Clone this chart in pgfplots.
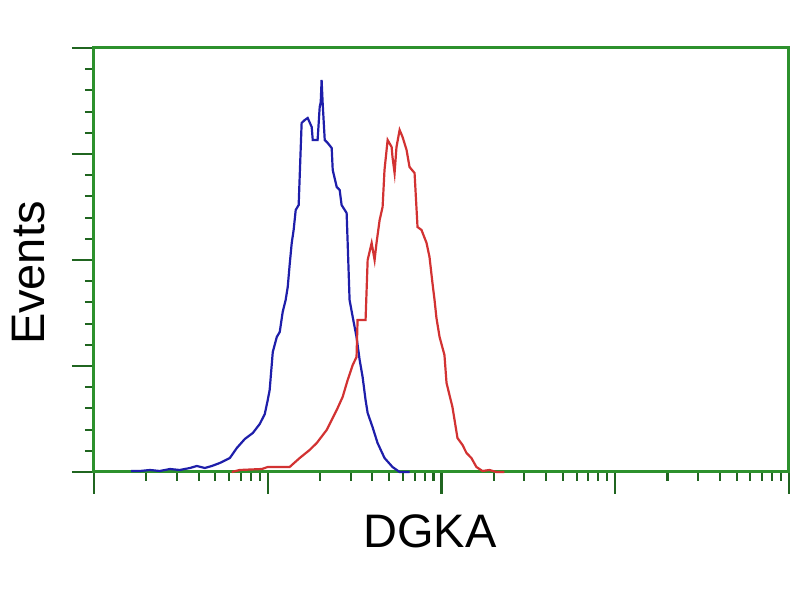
\documentclass[border=0pt]{standalone}
\usepackage{fontspec}
\setmainfont{Liberation Sans}
\usepackage{pgfplots}
\pgfplotsset{compat=1.18}
\definecolor{axgreen}{RGB}{45,145,45}
\definecolor{cblue}{RGB}{30,30,170}
\definecolor{cred}{RGB}{210,50,50}
\begin{document}
\begin{tikzpicture}
\path[use as bounding box] (0,0) rectangle (400pt,300pt);
\begin{axis}[
  at={(47pt,64pt)}, anchor=south west,
  scale only axis, width=347.5pt, height=212pt,
  xmin=0, xmax=4, ymin=0, ymax=424,
  xtick={0,1,2,3,4},
  minor xtick={0.301,0.477,0.602,0.699,0.778,0.845,0.903,0.954,
               1.301,1.477,1.602,1.699,1.778,1.845,1.903,1.954,
               2.301,2.477,2.602,2.699,2.778,2.845,2.903,2.954,
               3.301,3.477,3.602,3.699,3.778,3.845,3.903,3.954},
  ytick={0,106,212,318,424},
  minor ytick={21.2,42.4,63.6,84.8,127.2,148.4,169.6,190.8,233.2,254.4,275.6,296.8,339.2,360.4,381.6,402.8},
  xticklabels={}, yticklabels={},
  tick align=outside, xtick pos=bottom, ytick pos=left,
  major tick length=11pt, minor tick length=4.5pt,
  every tick/.style={color=axgreen!70!black, line width=1.05pt},
  axis line style={color=axgreen, line width=1.5pt},
  xlabel={DGKA}, ylabel={Events},
  xlabel style={at={(axis description cs:0.4835,-0.140)}, anchor=center, font=\fontsize{23.5}{28}\selectfont},
  ylabel style={at={(axis description cs:-0.0935,0.469)}, anchor=center, font=\fontsize{23.5}{28}\selectfont},
  clip=false,
]
\addplot[color=cblue, line width=1.1pt] coordinates {
(0.213,1) (0.264,1) (0.322,2) (0.379,1) (0.437,3) (0.494,2) (0.552,4) (0.592,6)
(0.638,4) (0.678,6) (0.724,9) (0.782,14) (0.822,24) (0.868,33) (0.914,39) (0.954,48)
(0.983,58) (1.000,72) (1.011,82) (1.029,120) (1.052,135) (1.069,140) (1.086,160)
(1.103,172) (1.115,185) (1.126,207) (1.138,229) (1.149,242) (1.161,262) (1.178,267)
(1.195,349) (1.213,352) (1.230,354) (1.253,345) (1.259,332) (1.287,332) (1.299,365)
(1.305,370) (1.310,392) (1.316,369) (1.328,332) (1.345,329) (1.368,324) (1.374,302)
(1.397,285) (1.414,282) (1.425,267) (1.454,259) (1.460,229) (1.471,172) (1.489,155)
(1.511,135) (1.529,112) (1.546,95) (1.563,72) (1.575,59) (1.603,45) (1.632,29)
(1.672,14) (1.718,5) (1.759,0) (1.816,0)
};
\addplot[color=cred, line width=1.1pt] coordinates {
(0.793,0) (0.839,2) (0.966,3) (1.000,5) (1.126,5) (1.184,14) (1.241,22) (1.282,29)
(1.339,42) (1.397,62) (1.431,75) (1.460,92) (1.489,107) (1.511,115) (1.517,152)
(1.563,152) (1.569,182) (1.575,212) (1.598,229) (1.615,212) (1.626,229) (1.644,252)
(1.661,265) (1.672,302) (1.690,332) (1.713,325) (1.718,315) (1.730,299) (1.741,325)
(1.759,342) (1.776,335) (1.799,322) (1.816,305) (1.845,299) (1.862,245) (1.885,242)
(1.914,229) (1.931,215) (1.948,189) (1.960,172) (1.971,154) (1.989,135) (2.017,117)
(2.029,89) (2.063,65) (2.092,34) (2.121,27) (2.144,19) (2.172,14) (2.201,5)
(2.236,1) (2.276,2) (2.316,0) (2.362,0)
};
\end{axis}
\end{tikzpicture}
\end{document}
